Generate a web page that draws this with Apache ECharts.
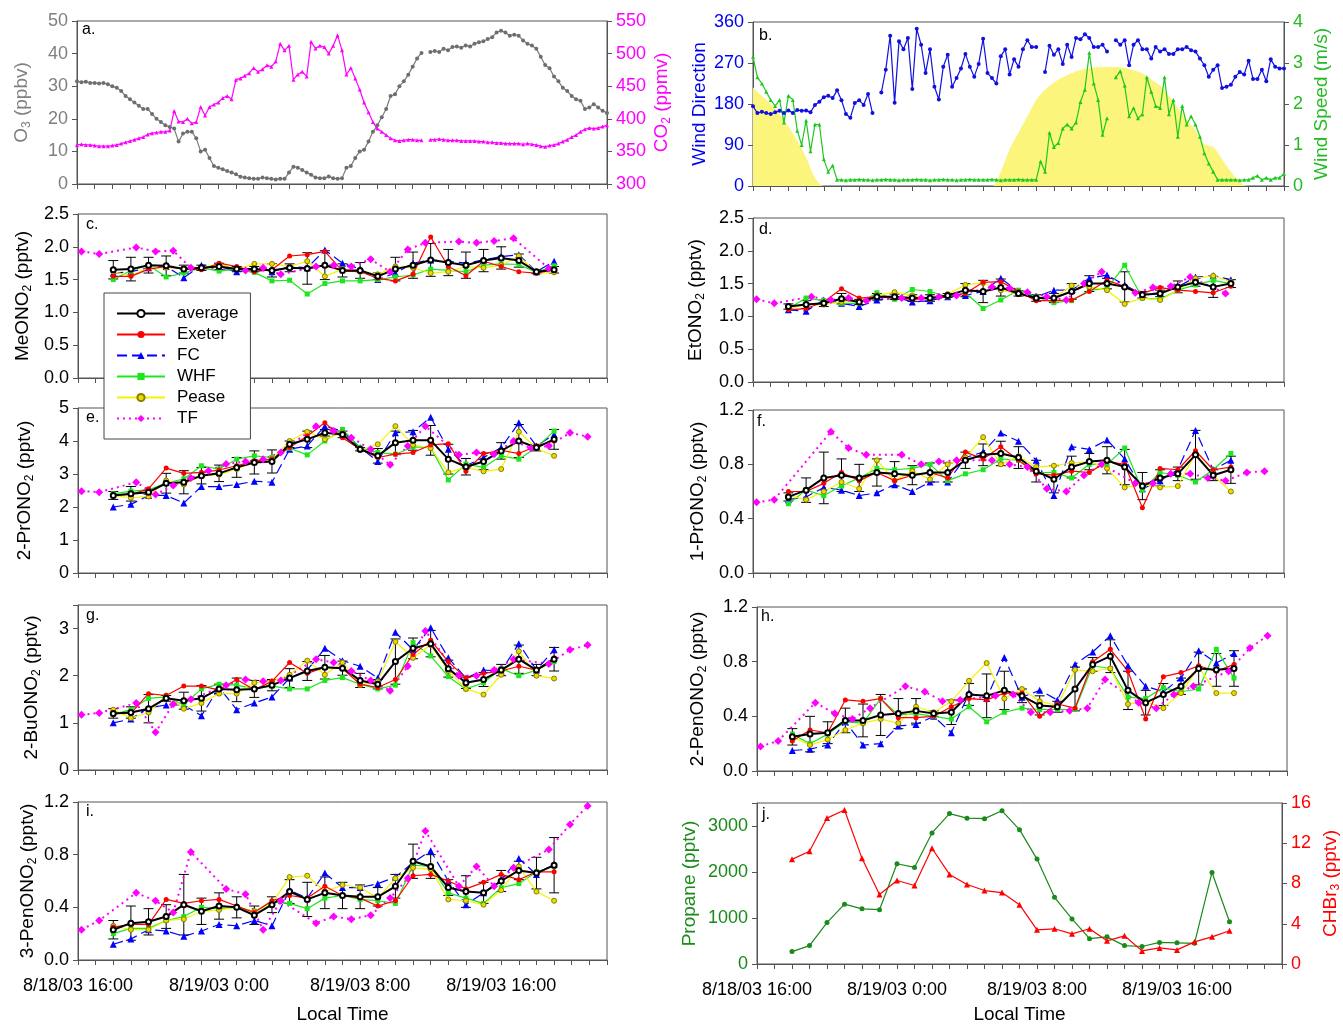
<!DOCTYPE html>
<html>
<head>
<meta charset="utf-8">
<title>Alkyl nitrates</title>
<script src="https://cdn.jsdelivr.net/npm/echarts@6/dist/echarts.min.js"></script>
<style>body{margin:0;background:#fff}</style>
</head>
<body>
<div id="main" style="width:1343px;height:1025px;"></div>
<script type="text/javascript">
var FONT = '"Liberation Sans", Arial, sans-serif';

// x ticks (hours since 8/18/03 0:00)
var xTickHours = [16, 24, 32, 40];
var xTickLabels = ['8/18/03 16:00', '8/19/03 0:00', '8/19/03 8:00', '8/19/03 16:00'];

// ---- panel a: O3 / CO2, 15 min from 16:00 ----
var o3 = [31.5,31.2,31.4,31.0, 31.0,30.8,31.0,30.6, 30.0,29.5,28.5,27.0, 26.0,25.0,24.0,23.0,
  23.0,21.5,20.0,19.0, 18.0,17.5,17.0,13.0, 15.5,16.0,16.0,14.0, 10.0,10.5,8.0,5.5,
  5.0,4.5,4.0,3.5, 3.0,2.2,2.0,1.8, 1.6,1.6,2.0,1.8, 1.6,1.4,1.6,1.6,
  3.5,5.3,5.0,4.3, 3.5,2.8,2.0,1.8, 1.8,2.3,1.8,1.6, 1.8,5.0,5.5,8.0,
  10.0,10.5,13.0,16.0, 18.0,20.5,23.0,27.0, 27.5,30.0,31.5,33.5, 36.0,38.5,40.2,null,
  40.5,40.8,40.5,41.5, 41.0,42.0,42.2,41.8, 42.5,42.2,43.0,43.5, 43.8,44.5,45.0,46.5,
  47.0,46.5,45.5,45.8, 45.5,44.0,43.0,42.5, 41.5,39.0,36.5,35.5, 33.0,31.5,29.5,28.5,
  27.0,26.0,25.5,23.0, 23.5,24.5,23.5,22.5, 21.8];
var co2 = [360,361,360,360, 359,358,358,358, 359,360,362,364, 366,368,370,372,
  376,378,379,380, 380,382,412,396, 395,400,393,395, 418,405,418,422,
  425,432,435,430, 460,462,466,470, 478,472,476,482, 480,488,515,505,
  512,460,468,472, 465,518,508,512, 510,500,512,528, 505,468,478,462,
  445,425,410,395, 385,380,375,370, 367,366,367,368, 368,367,367,null,
  368,368,369,368, 367,367,367,366, 366,366,366,365, 365,364,364,363,
  363,362,362,362, 362,361,362,361, 360,358,357,359, 360,362,365,368,
  372,375,380,384, 386,385,386,388, 390];

// ---- panel b: wind direction / speed, 15 min; solar shading 30 min ----
var windDir = [175,160,163,160, 158,162,165,160, 166,160,167,165, 166,162,178,185,
  195,198,193,210, 188,158,150,182, 188,178,202,160, null,205,255,330,
  183,318,300,325, 213,345,310,248, 300,218,190,262, 288,218,237,258,
  290,262,240,268, 323,248,237,225, 285,300,245,278, 262,300,320,305,
  305,null,250,308, 288,300,268,310, 283,325,322,333, 325,305,305,310,
  295,null,320,310, 320,265,310,320, 300,300,280,305, 295,300,290,290,
  300,300,305,298, 295,280,265,240, 255,265,215,218, 222,240,250,245,
  275,235,235,255, 230,278,262,258, 258];
var windSpd = [3.15,2.65,2.5,2.3, 2.1,1.95,2.1,1.55, 2.2,2.1,1.35,1.0, 1.6,0.85,1.5,1.5,
  0.65,0.35,0.5,0.15, 0.15,0.14,0.15,0.15, 0.16,0.15,0.15,0.14, 0.15,0.15,0.16,0.15,
  0.15,0.14,0.15,0.15, 0.15,0.16,0.15,0.15, 0.14,0.15,0.15,0.16, 0.15,0.15,0.14,0.15,
  0.15,0.16,0.15,0.15, 0.15,0.15,0.16,0.15, 0.14,0.15,0.15,0.15, 0.16,0.15,0.15,0.15,
  0.15,0.6,0.35,1.3, 0.95,1.05,1.4,1.5, 1.4,1.55,2.05,2.35, 3.25,2.5,2.1,1.25,
  1.65,null,2.65,2.8, 2.45,1.7,1.9,1.65, 1.75,2.65,2.3,1.95, 1.9,2.65,1.75,2.1,
  1.2,1.95,1.5,1.7, 1.5,1.2,0.8,0.55, 0.35,0.15,0.15,0.15, 0.15,0.15,0.14,0.15,
  0.15,0.2,0.25,0.15, 0.2,0.15,0.2,0.2, 0.3];
var solar = [2.4,2.2,2.0,1.75,1.45,1.1,0.7,0.2,
  0,0,0,0,0,0,0,0,0,0,0,0,0,0,0,0,0,0,0,0,
  0.35,0.9,1.3,1.7,2.1,2.35,2.52,2.65,2.75,2.83,2.87,2.9,2.9,2.9,
  2.88,2.82,2.75,2.6,2.45,2.2,1.9,1.62,1.35,1.02,0.95,0.65,0.35,0.1,
  0,0,0,0,0];

// ---- hourly canister samples, 8/18 18:00 .. 8/19 19:00 ----
var sampleHours = [18,19,20,21,22,23,24,25,26,27,28,29,30,31,32,33,34,35,36,37,38,39,40,41,42,43];
var tfHours = [16.2,17.2,19.3,20.4,21.4,22.4,23.4,24.4,25.5,26.5,27.5,29.5,30.5,31.5,32.6,33.7,34.7,35.7,37.6,38.6,39.6,40.7,41.7,42.7,43.9,44.9];

var cAvg = [1.65,1.66,1.72,1.71,1.66,1.68,1.70,1.66,1.66,1.64,1.68,1.67,1.72,1.64,1.64,1.55,1.66,1.72,1.80,1.76,1.72,1.79,1.83,1.79,1.62,1.65];
var cSd = [0.14,0.18,0.12,0.15,0.06,0.04,0.05,0.04,0.04,0.10,0.06,0.24,0.22,0.10,0.12,0.05,0.18,0.20,0.25,0.20,0.20,0.17,0.17,0.10,0.03,0.05];
var cExeter = [1.55,1.55,1.66,1.70,1.66,1.65,1.75,1.70,1.62,1.65,1.86,1.88,1.93,1.63,1.62,1.52,1.48,1.58,2.15,1.70,1.56,1.78,1.70,1.62,1.60,1.65];
var cFC = [1.60,1.62,1.68,1.70,1.53,1.72,1.70,1.62,1.66,1.62,1.70,1.68,1.95,1.75,1.66,1.50,1.60,1.75,1.80,1.78,1.75,1.80,1.85,1.88,1.62,1.78];
var cWHF = [1.50,1.64,1.72,1.54,1.60,1.68,1.63,1.66,1.61,1.48,1.49,1.28,1.44,1.48,1.48,1.50,1.54,1.57,1.66,1.64,1.62,1.72,1.74,1.73,1.61,1.71];
var cPease = [1.62,1.56,1.68,1.68,1.68,1.68,1.74,1.66,1.74,1.74,1.70,1.78,1.55,1.66,1.62,1.58,1.70,1.68,1.60,1.62,1.70,1.68,1.72,1.86,1.60,1.61];
var cTF = [1.93,1.89,1.99,1.93,1.94,1.68,null,null,1.64,1.68,1.58,1.70,1.72,1.70,1.81,1.62,1.96,2.06,2.08,2.06,2.09,2.13,null,1.67,null,null];

var dAvg = [1.15,1.18,1.20,1.27,1.22,1.30,1.30,1.28,1.28,1.32,1.40,1.38,1.44,1.35,1.28,1.28,1.38,1.50,1.50,1.45,1.33,1.35,1.45,1.52,1.45,1.50];
var dSd = [0.04,0.06,0.05,0.08,0.04,0.05,0.04,0.05,0.05,0.03,0.10,0.17,0.13,0.04,0.05,0.07,0.12,0.12,0.08,0.23,0.05,0.05,0.09,0.06,0.16,0.06];
var dExeter = [1.10,1.12,1.22,1.42,1.28,1.30,1.28,1.26,1.27,1.30,1.35,1.52,1.53,1.38,1.24,1.24,1.25,1.38,1.55,1.46,1.35,1.44,1.40,1.38,1.36,1.46];
var dFC = [1.10,1.08,1.25,1.20,1.15,1.25,1.30,1.22,1.24,1.30,1.32,1.38,1.58,1.38,1.30,1.40,1.40,1.58,1.63,1.48,1.33,1.36,1.45,1.60,1.62,1.56];
var dWHF = [1.12,1.28,1.24,1.20,1.20,1.36,1.26,1.41,1.38,1.30,1.36,1.12,1.25,1.40,1.30,1.21,1.24,1.40,1.42,1.78,1.28,1.26,1.40,1.48,1.55,1.50];
var dPease = [1.12,1.18,1.18,1.22,1.24,1.32,1.37,1.32,1.26,1.34,1.48,1.51,1.40,1.34,1.27,1.28,1.47,1.45,1.40,1.19,1.28,1.25,1.40,1.58,1.62,1.53];
var dTF = [1.26,1.20,1.30,1.25,1.28,1.24,null,1.28,1.28,1.30,1.32,1.45,1.43,1.37,1.30,1.25,1.50,1.68,1.36,1.44,1.46,1.60,null,1.35,null,null];

var eAvg = [2.35,2.40,2.45,2.72,2.75,2.95,3.02,3.20,3.35,3.38,3.90,4.05,4.25,4.20,3.75,3.55,3.95,4.02,4.02,3.45,3.22,3.38,3.70,4.00,3.80,4.05];
var eSd = [0.12,0.22,0.06,0.30,0.35,0.25,0.25,0.30,0.35,0.35,0.10,0.25,0.10,0.10,0.05,0.22,0.35,0.30,0.45,0.45,0.25,0.25,0.25,0.50,0.10,0.30];
var eExeter = [2.35,2.38,2.55,3.18,3.02,3.05,3.12,3.25,3.40,3.45,3.80,4.15,4.55,4.10,3.75,3.50,3.60,3.65,3.88,3.92,3.08,3.62,3.72,3.62,3.85,4.00];
var eFC = [2.00,2.08,2.35,2.35,2.12,2.62,2.62,2.68,2.78,2.75,3.75,3.85,4.45,4.30,3.80,3.38,4.25,4.28,4.72,3.75,3.25,3.50,3.80,4.55,3.85,4.20];
var eWHF = [2.40,2.48,2.52,2.72,2.85,3.25,3.15,3.45,3.55,3.50,3.78,3.58,4.00,4.35,3.80,3.65,3.60,3.82,3.80,2.82,3.30,3.20,3.55,3.45,3.80,4.30];
var ePease = [2.35,2.28,2.32,2.80,2.68,2.95,2.98,3.15,3.35,3.45,4.00,4.28,4.05,4.25,3.72,3.90,4.45,3.88,3.78,3.05,3.20,3.08,3.15,4.28,3.78,3.55];
var eTF = [2.48,2.45,2.75,2.38,2.65,2.88,3.10,3.30,3.38,3.45,3.65,4.45,4.30,4.10,3.75,3.28,3.85,4.45,3.58,3.65,3.60,4.00,3.78,3.85,4.25,4.13];

var fAvg = [0.56,0.61,0.70,0.72,0.70,0.74,0.73,0.72,0.74,0.74,0.83,0.87,0.88,0.85,0.75,0.69,0.78,0.82,0.83,0.78,0.64,0.70,0.73,0.87,0.72,0.76];
var fSd = [0.03,0.09,0.19,0.12,0.10,0.10,0.09,0.07,0.07,0.07,0.06,0.08,0.09,0.08,0.08,0.10,0.08,0.06,0.10,0.13,0.10,0.06,0.05,0.18,0.04,0.10];
var fExeter = [0.60,0.60,0.66,0.74,0.68,0.74,0.68,0.72,0.74,0.70,0.89,0.84,0.93,0.83,0.73,0.72,0.75,0.74,0.82,0.80,0.48,0.77,0.76,0.90,0.76,0.78];
var fFC = [0.54,0.56,0.63,0.61,0.57,0.59,0.65,0.60,0.67,0.67,0.85,0.89,1.03,0.97,0.83,0.57,0.93,0.91,0.98,0.84,0.62,0.68,0.76,1.05,0.76,0.83];
var fWHF = [0.51,0.61,0.57,0.64,0.70,0.77,0.76,0.77,0.80,0.68,0.73,0.76,0.84,0.83,0.74,0.74,0.70,0.80,0.80,0.92,0.61,0.74,0.72,0.67,0.76,0.88];
var fPease = [0.57,0.54,0.60,0.67,0.62,0.83,0.68,0.75,0.69,0.80,0.85,1.00,0.80,0.86,0.78,0.79,0.81,0.82,0.77,0.63,0.65,0.63,0.64,0.88,0.72,0.60];
var fTF = [0.52,0.54,null,1.04,0.92,0.87,null,0.87,0.80,0.82,0.83,0.83,0.80,0.78,0.62,0.60,0.72,0.80,0.66,0.66,0.73,0.73,0.70,0.68,0.74,0.75];

var gAvg = [1.20,1.22,1.30,1.52,1.47,1.52,1.72,1.70,1.72,1.80,1.95,2.10,2.18,2.16,1.90,1.82,2.30,2.58,2.68,2.15,1.85,1.92,2.12,2.35,2.12,2.35];
var gSd = [0.10,0.12,0.30,0.06,0.18,0.27,0.10,0.25,0.18,0.12,0.20,0.20,0.25,0.15,0.15,0.10,0.48,0.22,0.28,0.18,0.12,0.15,0.12,0.30,0.12,0.25];
var gExeter = [1.20,1.20,1.62,1.58,1.78,1.78,1.70,1.92,1.70,1.88,2.28,2.05,2.18,2.15,1.82,1.75,1.92,2.45,2.75,2.30,1.95,2.05,2.10,2.20,2.12,2.38];
var gFC = [1.00,1.08,1.32,1.38,1.38,1.15,1.75,1.28,1.42,1.55,1.95,2.12,2.58,2.32,2.20,1.95,2.92,2.55,3.02,2.38,1.95,2.12,2.10,2.68,2.12,2.55];
var gWHF = [1.18,1.28,1.52,1.55,1.38,1.72,1.82,1.80,1.72,1.78,1.72,1.72,1.90,1.96,1.82,1.72,1.80,2.70,2.42,1.98,1.72,1.85,2.15,2.00,2.12,2.30];
var gPease = [1.28,1.10,1.22,1.58,1.30,1.42,1.62,1.62,1.85,1.88,2.02,2.32,2.02,2.28,1.80,1.88,2.72,2.38,2.65,2.10,1.72,1.60,2.02,2.52,2.00,1.94];
var gTF = [1.17,1.21,1.42,0.80,1.40,1.50,null,1.80,1.92,1.88,1.90,2.35,2.28,2.10,1.90,1.68,2.20,2.95,2.00,2.00,2.12,2.35,null,2.25,2.55,2.65];

var hAvg = [0.25,0.27,0.28,0.37,0.37,0.41,0.42,0.44,0.42,0.43,0.56,0.55,0.59,0.55,0.48,0.47,0.60,0.78,0.84,0.59,0.50,0.56,0.62,0.75,0.74,0.75];
var hSd = [0.06,0.13,0.08,0.09,0.12,0.15,0.11,0.09,0.02,0.09,0.08,0.16,0.14,0.05,0.07,0.04,0.16,0.05,0.12,0.14,0.09,0.08,0.06,0.12,0.12,0.13];
var hExeter = [0.22,0.30,0.28,0.52,0.51,0.53,0.39,0.39,0.40,0.47,0.53,0.52,0.57,0.57,0.40,0.49,0.46,0.80,0.89,0.73,0.38,0.69,0.72,0.77,0.73,0.78];
var hFC = [0.15,0.16,0.19,0.36,0.19,0.20,0.33,0.34,0.40,0.28,0.57,0.53,0.83,0.54,0.59,0.52,0.78,0.87,0.99,0.77,0.62,0.58,0.68,0.88,0.79,0.86];
var hWHF = [0.27,0.20,0.27,0.36,0.35,0.53,0.41,0.42,0.40,0.38,0.47,0.36,0.43,0.46,0.45,0.45,0.45,0.77,0.75,0.54,0.53,0.61,0.58,0.60,0.89,0.68];
var hPease = [0.25,0.19,0.23,0.30,0.35,0.38,0.35,0.47,0.43,0.51,0.66,0.79,0.53,0.60,0.51,0.48,0.74,0.73,0.75,0.49,0.51,0.46,0.57,0.76,0.57,0.57];
var hTF = [0.18,0.22,0.50,0.42,0.38,0.46,null,0.62,0.58,0.51,0.52,0.55,0.56,0.43,0.43,0.44,0.46,0.67,0.50,0.46,0.56,0.62,null,0.73,0.90,0.99];

var iAvg = [0.23,0.28,0.29,0.33,0.42,0.37,0.41,0.40,0.34,0.42,0.52,0.46,0.51,0.49,0.48,0.48,0.56,0.75,0.71,0.55,0.52,0.51,0.60,0.68,0.66,0.72];
var iSd = [0.07,0.13,0.10,0.09,0.23,0.10,0.10,0.08,0.07,0.06,0.09,0.13,0.12,0.10,0.09,0.07,0.09,0.13,0.09,0.06,0.12,0.08,0.08,0.07,0.12,0.21];
var iExeter = [0.25,0.27,0.27,0.46,0.43,0.45,0.46,0.41,0.36,0.45,0.49,0.47,0.56,0.49,0.47,0.41,0.45,0.64,0.65,0.60,0.54,0.59,0.65,0.61,0.67,0.67];
var iFC = [0.12,0.16,0.23,0.22,0.18,0.22,0.27,0.26,0.30,0.26,0.53,0.47,0.66,0.55,0.55,0.58,0.63,0.74,0.83,0.60,0.42,0.51,0.61,0.77,0.65,0.73];
var iWHF = [0.20,0.24,0.24,0.30,0.33,0.40,0.39,0.40,0.37,0.44,0.43,0.39,0.47,0.49,0.46,0.45,0.43,0.72,0.71,0.51,0.47,0.43,0.55,0.58,0.67,0.71];
var iPease = [0.26,0.23,0.23,0.30,0.31,0.37,0.38,0.40,0.37,0.43,0.63,0.64,0.52,0.57,0.55,0.47,0.62,0.70,0.69,0.46,0.45,0.42,0.53,0.71,0.52,0.45];
var iTF = [0.23,0.30,0.51,0.45,0.36,0.82,null,0.54,0.50,0.23,0.45,0.28,0.33,0.31,0.34,0.47,0.62,0.98,0.56,0.71,0.56,0.70,null,0.84,1.03,1.17];

// ---- panel j ----
var propane = [270,400,900,1300,1200,1180,2180,2100,2850,3270,3170,3160,3330,2920,2280,1450,980,550,590,400,380,470,460,450,1990,920];
var chbr3 = [10.4,11.2,14.5,15.3,10.5,6.9,8.3,7.8,11.5,8.9,7.9,7.3,7.1,5.9,3.4,3.5,3.0,3.5,2.3,2.8,1.3,1.6,1.4,2.2,2.7,3.3];

function pairs(xs, ys) { return xs.map(function (x, i) { return [x, ys[i]]; }); }
function stepped(vals, step) { return vals.map(function (v, i) { return [16 + i * step, v]; }); }

var grids = [
  {left: 77, top: 21, width: 530, height: 163},
  {left: 753, top: 22, width: 531, height: 164},
  {left: 78, top: 214, width: 529, height: 164},
  {left: 753, top: 218, width: 531, height: 164},
  {left: 78, top: 408, width: 529, height: 165},
  {left: 753, top: 410, width: 531, height: 163},
  {left: 78, top: 605, width: 529, height: 165},
  {left: 757, top: 607, width: 530, height: 164},
  {left: 78, top: 802, width: 529, height: 164},
  {left: 757, top: 803, width: 530, height: 162}
].map(function (g) {
  g.show = true; g.borderColor = '#555'; g.borderWidth = 1; g.backgroundColor = 'transparent';
  return g;
});

function xAx(g, labels, gap) {
  return {
    type: 'value', gridIndex: g, min: 16, max: 46, interval: 1,
    splitLine: {show: false},
    axisLine: {onZero: false, lineStyle: {color: '#555'}},
    axisTick: {length: 5, lineStyle: {color: '#555'}},
    axisLabel: {show: labels, margin: 17, fontSize: 18, color: '#000', fontFamily: FONT,
      formatter: function (v) { var k = xTickHours.indexOf(v); return k >= 0 ? xTickLabels[k] : ''; }},
    name: labels ? 'Local Time' : '', nameLocation: 'middle', nameGap: gap || 40,
    nameTextStyle: {fontSize: 19, color: '#000', fontFamily: FONT}
  };
}

function nm(a, sub, b) { return sub ? '{t|' + a + '}{s|' + sub + '}{t|' + b + '}' : '{t|' + a + '}'; }

function yAx(g, o) {
  var c = o.color || '#000';
  return {
    type: 'value', gridIndex: g, min: o.min, max: o.max, interval: o.interval,
    position: o.pos || 'left',
    splitLine: {show: false},
    axisLine: {show: true, onZero: false, lineStyle: {color: '#555'}},
    axisTick: {show: true, length: 5, lineStyle: {color: '#555'}},
    axisLabel: {fontSize: 18, color: c, fontFamily: FONT, margin: 9, formatter: o.fmt},
    name: o.name, nameLocation: 'middle', nameGap: o.gap, nameRotate: 90,
    nameTextStyle: {fontFamily: FONT, rich: {
      t: {fontSize: 19, color: c, fontFamily: FONT, lineHeight: 22},
      s: {fontSize: 12, color: c, fontFamily: FONT, lineHeight: 22, verticalAlign: 'bottom'}
    }}
  };
}

var f1 = function (v) { return v.toFixed(1); };
var fInt = function (v) { return Math.abs(v - Math.round(v)) < 1e-6 ? String(Math.round(v)) : ''; };

var xAxes = [xAx(0, false), xAx(1, false), xAx(2, false), xAx(3, false), xAx(4, false),
  xAx(5, false), xAx(6, false), xAx(7, false), xAx(8, true, 45), xAx(9, true, 41)];

var yAxes = [
  yAx(0, {min: 0, max: 50, interval: 10, name: nm('O', '3', ' (ppbv)'), gap: 44, color: '#808080'}),
  yAx(0, {min: 300, max: 550, interval: 50, pos: 'right', name: nm('CO', '2', ' (ppmv)'), gap: 44, color: '#ff00ff'}),
  yAx(1, {min: 0, max: 360, interval: 90, name: nm('Wind Direction'), gap: 42, color: '#0000ee'}),
  yAx(1, {min: 0, max: 4, interval: 1, pos: 'right', name: nm('Wind Speed (m/s)'), gap: 27, color: '#22bb22'}),
  yAx(2, {min: 0, max: 2.5, interval: 0.5, fmt: f1, name: nm('MeONO', '2', ' (pptv)'), gap: 44}),
  yAx(3, {min: 0, max: 2.5, interval: 0.5, fmt: f1, name: nm('EtONO', '2', ' (pptv)'), gap: 46}),
  yAx(4, {min: 0, max: 5, interval: 1, name: nm('2-PrONO', '2', ' (pptv)'), gap: 42}),
  yAx(5, {min: 0, max: 1.2, interval: 0.4, fmt: f1, name: nm('1-PrONO', '2', ' (pptv)'), gap: 44}),
  yAx(6, {min: 0, max: 3.5, interval: 1, fmt: fInt, name: nm('2-BuONO', '2', ' (pptv)'), gap: 35}),
  yAx(7, {min: 0, max: 1.2, interval: 0.4, fmt: f1, name: nm('2-PenONO', '2', ' (pptv)'), gap: 48}),
  yAx(8, {min: 0, max: 1.2, interval: 0.4, fmt: f1, name: nm('3-PenONO', '2', ' (pptv)'), gap: 39}),
  yAx(9, {min: 0, max: 3500, interval: 1000, fmt: function (v) { return v <= 3000 ? String(v) : ''; }, name: nm('Propane (pptv)'), gap: 56, color: '#1a8a1a'}),
  yAx(9, {min: 0, max: 16, interval: 4, pos: 'right', name: nm('CHBr', '3', ' (pptv)'), gap: 38, color: '#ff0000'})
];

function errRender(params, api) {
  var x = api.value(0);
  var top = api.coord([x, api.value(2)]);
  var bot = api.coord([x, api.value(1)]);
  var w = 5;
  var st = {stroke: '#000', lineWidth: 1};
  return {type: 'group', children: [
    {type: 'line', shape: {x1: top[0], y1: top[1], x2: bot[0], y2: bot[1]}, style: st},
    {type: 'line', shape: {x1: top[0] - w, y1: top[1], x2: top[0] + w, y2: top[1]}, style: st},
    {type: 'line', shape: {x1: bot[0] - w, y1: bot[1], x2: bot[0] + w, y2: bot[1]}, style: st}
  ]};
}

var series = [];

// panel a
series.push({name: 'O3', type: 'line', xAxisIndex: 0, yAxisIndex: 0, data: stepped(o3, 0.25),
  symbol: 'circle', symbolSize: 4, lineStyle: {color: '#7a7a7a', width: 1.2}, itemStyle: {color: '#6e6e6e'}});
series.push({name: 'CO2', type: 'line', xAxisIndex: 0, yAxisIndex: 1, data: stepped(co2, 0.25),
  symbol: 'triangle', symbolSize: 4, lineStyle: {color: '#ff00ff', width: 1.2}, itemStyle: {color: '#ff00ff'}});

// panel b
series.push({name: 'Solar', type: 'line', xAxisIndex: 1, yAxisIndex: 3, data: stepped(solar, 0.5),
  showSymbol: false, smooth: 0.3, lineStyle: {width: 0}, areaStyle: {color: '#fbf57c', opacity: 1}, z: 1});
series.push({name: 'WD', type: 'line', xAxisIndex: 1, yAxisIndex: 2, data: stepped(windDir, 0.25),
  symbol: 'circle', symbolSize: 4, lineStyle: {color: '#1010e0', width: 1.2}, itemStyle: {color: '#1010e0'}});
series.push({name: 'WS', type: 'line', xAxisIndex: 1, yAxisIndex: 3, data: stepped(windSpd, 0.25),
  symbol: 'triangle', symbolSize: 4, lineStyle: {color: '#1ec81e', width: 1.2}, itemStyle: {color: '#1ec81e'}});

function samplerPanel(g, y, avg, sd, exeter, fc, whf, pease, tf) {
  series.push({name: 'TF', type: 'line', xAxisIndex: g, yAxisIndex: y, data: pairs(tfHours, tf), connectNulls: true,
    symbol: 'diamond', symbolSize: 8, lineStyle: {color: '#ff00ff', width: 2, type: [2, 4]}, itemStyle: {color: '#ff00ff'}});
  series.push({name: 'sd', type: 'custom', xAxisIndex: g, yAxisIndex: y, renderItem: errRender, silent: true,
    encode: {x: 0, y: [1, 2]},
    data: sampleHours.map(function (h, i) { return [h, avg[i] - sd[i], avg[i] + sd[i]]; })});
  series.push({name: 'FC', type: 'line', xAxisIndex: g, yAxisIndex: y, data: pairs(sampleHours, fc),
    symbol: 'triangle', symbolSize: 7, lineStyle: {color: '#0000ff', width: 1.2, type: [10, 5]}, itemStyle: {color: '#0000ff'}});
  series.push({name: 'WHF', type: 'line', xAxisIndex: g, yAxisIndex: y, data: pairs(sampleHours, whf),
    symbol: 'rect', symbolSize: 5, lineStyle: {color: '#1ee61e', width: 1.2}, itemStyle: {color: '#1ee61e'}});
  series.push({name: 'Pease', type: 'line', xAxisIndex: g, yAxisIndex: y, data: pairs(sampleHours, pease),
    symbol: 'circle', symbolSize: 5, lineStyle: {color: '#f4f400', width: 1.2},
    itemStyle: {color: '#e6dc00', borderColor: '#8c7c00', borderWidth: 1}});
  series.push({name: 'Exeter', type: 'line', xAxisIndex: g, yAxisIndex: y, data: pairs(sampleHours, exeter),
    symbol: 'circle', symbolSize: 5, lineStyle: {color: '#ff0000', width: 1.2}, itemStyle: {color: '#ff0000'}});
  series.push({name: 'average', type: 'line', xAxisIndex: g, yAxisIndex: y, data: pairs(sampleHours, avg),
    symbol: 'emptyCircle', symbolSize: 5, lineStyle: {color: '#000', width: 2},
    itemStyle: {color: '#000', borderWidth: 1}});
}

samplerPanel(2, 4, cAvg, cSd, cExeter, cFC, cWHF, cPease, cTF);
samplerPanel(3, 5, dAvg, dSd, dExeter, dFC, dWHF, dPease, dTF);
samplerPanel(4, 6, eAvg, eSd, eExeter, eFC, eWHF, ePease, eTF);
samplerPanel(5, 7, fAvg, fSd, fExeter, fFC, fWHF, fPease, fTF);
samplerPanel(6, 8, gAvg, gSd, gExeter, gFC, gWHF, gPease, gTF);
samplerPanel(7, 9, hAvg, hSd, hExeter, hFC, hWHF, hPease, hTF);
samplerPanel(8, 10, iAvg, iSd, iExeter, iFC, iWHF, iPease, iTF);

// panel j
series.push({name: 'Propane', type: 'line', xAxisIndex: 9, yAxisIndex: 11, data: pairs(sampleHours, propane),
  symbol: 'circle', symbolSize: 5, lineStyle: {color: '#1a8a1a', width: 1.2}, itemStyle: {color: '#1a8a1a'}});
series.push({name: 'CHBr3', type: 'line', xAxisIndex: 9, yAxisIndex: 12, data: pairs(sampleHours, chbr3),
  symbol: 'triangle', symbolSize: 6, lineStyle: {color: '#ff0000', width: 1.2}, itemStyle: {color: '#ff0000'}});

var panelLabels = [['a.', 82, 22], ['b.', 759, 28], ['c.', 86, 217], ['d.', 759, 222], ['e.', 86, 410],
  ['f.', 757, 414], ['g.', 86, 608], ['h.', 761, 609], ['i.', 86, 804], ['j.', 762, 807]];

var option = {
  animation: false,
  backgroundColor: '#fff',
  textStyle: {fontFamily: FONT},
  grid: grids,
  xAxis: xAxes,
  yAxis: yAxes,
  legend: {
    data: ['average', 'Exeter', 'FC', 'WHF', 'Pease', 'TF'],
    orient: 'vertical', left: 104, top: 293,
    padding: [12, 12, 12, 12], itemWidth: 48, itemHeight: 9, itemGap: 4,
    backgroundColor: '#fff', borderColor: '#444', borderWidth: 1,
    selectedMode: false,
    textStyle: {fontSize: 17, fontFamily: FONT, color: '#000', padding: [0, 0, 0, 7]}
  },
  graphic: panelLabels.map(function (p) {
    return {type: 'text', left: p[1], top: p[2], z: 100,
      style: {text: p[0], fontSize: 16, fontFamily: FONT, fill: '#000'}};
  }),
  series: series
};

var myChart = echarts.init(document.getElementById('main'));
myChart.setOption(option);
</script>
</body>
</html>
